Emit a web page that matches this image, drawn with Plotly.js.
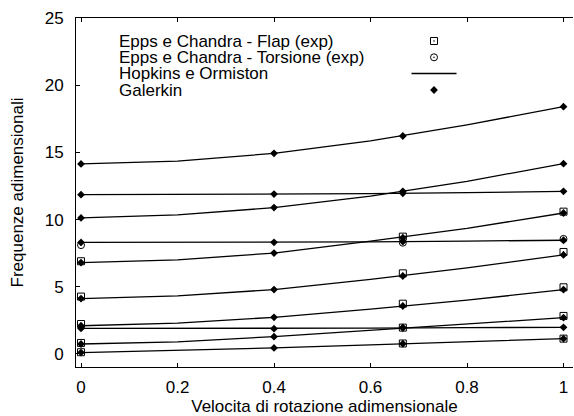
<!DOCTYPE html>
<html>
<head>
<meta charset="utf-8">
<script src="https://cdn.plot.ly/plotly-3.0.1.min.js"></script>
<style>
  html, body { margin: 0; padding: 0; background: #fff; }
  #chart { width: 574px; height: 416px; }
</style>
</head>
<body>
<div id="chart"></div>
<script>
// Rotation speed stations for each data family
const xGalerkin = [0, 0.4, 0.667, 1];
const xHopkins = [0, 0.2, 0.4, 0.6, 0.8, 1];
const xExperiment = [0, 0.667, 1];

// Hopkins e Ormiston: one row per mode, values at xHopkins
const hopkinsOrmiston = [
  [14.14, 14.35, 14.93, 15.85, 17.05, 18.4],
  [11.85, 11.87, 11.9, 11.93, 12.0, 12.1],
  [10.12, 10.35, 10.89, 11.75, 12.85, 14.16],
  [8.3, 8.3, 8.31, 8.34, 8.4, 8.46],
  [6.8, 7.0, 7.51, 8.4, 9.35, 10.49],
  [4.12, 4.33, 4.79, 5.55, 6.4, 7.37],
  [2.1, 2.3, 2.73, 3.33, 4.0, 4.79],
  [1.9, 1.89, 1.88, 1.92, 1.96, 1.98],
  [0.74, 0.9, 1.29, 1.77, 2.22, 2.7],
  [0.1, 0.25, 0.45, 0.68, 0.9, 1.14]
];

// Galerkin: one row per mode, values at xGalerkin
const galerkin = [
  [14.14, 14.93, 16.22, 18.4],
  [11.85, 11.9, 11.95, 12.1],
  [10.12, 10.89, 12.1, 14.16],
  [8.3, 8.31, 8.36, 8.46],
  [6.8, 7.51, 8.65, 10.49],
  [4.12, 4.79, 5.8, 7.37],
  [2.1, 2.73, 3.57, 4.79],
  [1.9, 1.88, 1.95, 1.98],
  [0.74, 1.29, 1.95, 2.7],
  [0.1, 0.45, 0.76, 1.14]
];

// Epps e Chandra measurements, values at xExperiment
const eppsFlap = [
  [6.9, 8.73, 10.59],
  [4.27, 6.0, 7.59],
  [2.23, 3.74, 4.96],
  [0.82, 1.96, 2.83],
  [0.13, 0.78, 1.14]
];
const eppsTorsione = [
  [8.1, 8.28, 8.56]
];

const legendNames = [
  'Epps e Chandra - Flap (exp)',
  'Epps e Chandra - Torsione (exp)',
  'Hopkins e Ormiston',
  'Galerkin'
];
const xTicks = [0, 0.2, 0.4, 0.6, 0.8, 1];
const yTicks = [0, 5, 10, 15, 20, 25];

// Chain the rows of a family into one trace, breaking the line between modes
function chain(xs, rows) {
  const x = [], y = [];
  rows.forEach(row => {
    row.forEach((v, i) => { x.push(xs[i]); y.push(v); });
    x.push(null); y.push(null);
  });
  return { x, y };
}

const ink = '#000';
const hop = chain(xHopkins, hopkinsOrmiston);
const gal = chain(xGalerkin, galerkin);
const flap = chain(xExperiment, eppsFlap);
const tors = chain(xExperiment, eppsTorsione);

const traces = [
  { x: hop.x, y: hop.y, name: legendNames[2], legendrank: 3, mode: 'lines',
    line: { color: ink, width: 1.3 }, connectgaps: false },
  { x: gal.x, y: gal.y, name: legendNames[3], legendrank: 4, mode: 'markers',
    marker: { symbol: 'diamond', size: 6, color: ink } },
  { x: flap.x, y: flap.y, name: legendNames[0], legendrank: 1, mode: 'markers',
    marker: { symbol: 'square-open-dot', size: 7, color: ink, line: { width: 1, color: ink } } },
  { x: tors.x, y: tors.y, name: legendNames[1], legendrank: 2, mode: 'markers',
    marker: { symbol: 'circle-open-dot', size: 7, color: ink, line: { width: 1, color: ink } } }
];

const font = { family: '"Liberation Sans", Arial, sans-serif', size: 17, color: ink };

const layout = {
  width: 574, height: 416,
  margin: { l: 76, r: 1, t: 18, b: 49 },
  paper_bgcolor: '#fff', plot_bgcolor: '#fff',
  font: font,
  showlegend: true,
  legend: { x: 0.3, y: 1, bgcolor: 'rgba(0,0,0,0)', borderwidth: 0, font: font },
  xaxis: {
    range: [-0.0104, 1.0197],
    tickvals: xTicks, ticktext: xTicks.map(String),
    ticks: 'inside', ticklen: 4, tickcolor: ink, tickwidth: 1,
    showline: true, linecolor: ink, linewidth: 1, mirror: 'ticks',
    showgrid: false, zeroline: false,
    ticklabelstandoff: 5,
    title: { text: 'Velocita di rotazione adimensionale', font: font, standoff: 0 }
  },
  yaxis: {
    range: [-0.97, 25],
    tickvals: yTicks, ticktext: yTicks.map(String),
    ticks: 'inside', ticklen: 4, tickcolor: ink, tickwidth: 1,
    showline: true, linecolor: ink, linewidth: 1,
    showgrid: false, zeroline: false,
    ticklabelstandoff: 8,
    title: { text: 'Frequenze adimensionali', font: font, standoff: 16 }
  },
  yaxis2: {
    overlaying: 'y', side: 'right', range: [-0.97, 25],
    tickvals: yTicks, ticks: 'inside', ticklen: 4, tickcolor: ink,
    showticklabels: false, showline: false, showgrid: false, zeroline: false
  }
};

// Key layout: text column on the left, symbol column on the right
const keyTextX = 119;
const keySymbolX = 434;
const keyRowY = [41, 57.3, 73.5, 90];

function arrangeKey(gd) {
  const legend = gd.querySelector('.legend');
  if (!legend) return;
  legend.setAttribute('transform', 'translate(0,0)');
  legend.removeAttribute('clip-path');
  legend.querySelectorAll('[clip-path]').forEach(el => el.removeAttribute('clip-path'));
  legend.querySelectorAll('.scrollbox').forEach(el => el.setAttribute('transform', 'translate(0,0)'));
  legend.querySelectorAll('.groups').forEach(el => el.setAttribute('transform', 'translate(0,0)'));
  const rows = legend.querySelectorAll('.traces');
  rows.forEach((g, i) => {
    const origin = keySymbolX - 20;
    g.setAttribute('transform', 'translate(' + origin + ',' + keyRowY[i] + ')');
    const t = g.querySelector('.legendtext');
    if (t) {
      t.setAttribute('x', keyTextX - origin);
      t.setAttribute('y', 5.5);
      t.querySelectorAll('tspan').forEach(s => s.setAttribute('x', keyTextX - origin));
    }
    const ln = g.querySelector('.legendlines path');
    if (ln) ln.setAttribute('d', 'M-2.5,0h45');
  });
}

const gd = document.getElementById('chart');
Plotly.newPlot(gd, traces, layout, { displayModeBar: false, staticPlot: true }).then(() => {
  arrangeKey(gd);
  gd.on('plotly_afterplot', () => arrangeKey(gd));
});
</script>
</body>
</html>
